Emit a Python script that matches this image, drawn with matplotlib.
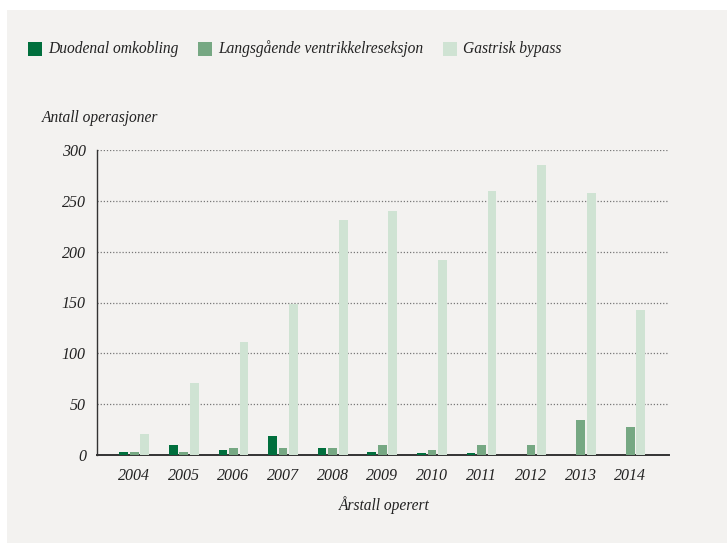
import numpy as np
import matplotlib
matplotlib.use("Agg")
import matplotlib.pyplot as plt
from matplotlib.patches import Rectangle

years = ["2004", "2005", "2006", "2007", "2008", "2009", "2010", "2011", "2012", "2013", "2014"]
duodenal = [3, 10, 5, 19, 7, 3, 2, 2, 0, 0, 0]
langsgaende = [3, 3, 7, 7, 7, 10, 5, 10, 10, 34, 28]
gastrisk = [21, 71, 111, 149, 231, 240, 192, 260, 285, 258, 143]

series_names = ["Duodenal omkobling", "Langsgående ventrikkelreseksjon", "Gastrisk bypass"]
colors = ["#006f3d", "#76a883", "#cfe3d3"]
bg = "#f3f2f0"

plt.rcParams['font.family'] = ['Liberation Serif', 'DejaVu Serif']

fig = plt.figure(figsize=(7.27, 5.43), dpi=100)
fig.patch.set_facecolor("white")
# grey panel behind everything
fig.patches.append(Rectangle((7 / 727, 0), 1, 1 - 10 / 543, transform=fig.transFigure,
                             facecolor=bg, edgecolor="none", zorder=-10))

ax = fig.add_axes([97 / 727, 88 / 543, (669 - 97) / 727, (455 - 150) / 543])
ax.set_facecolor(bg)

x = np.arange(len(years))
w = 0.175
step = 0.212
for i, (vals, c) in enumerate(zip([duodenal, langsgaende, gastrisk], colors)):
    ax.bar(x + (i - 1) * step, vals, width=w, color=c, zorder=3, label=series_names[i])

ax.set_xlim(-0.75, len(years) - 1 + 0.78)
ax.set_ylim(0, 300)
ax.set_yticks(range(0, 301, 50))
ax.set_xticks(x)
ax.set_xticklabels(years)
ax.yaxis.grid(True, linestyle=(0, (1, 1.5)), color="#777777", linewidth=0.9, zorder=1)
ax.set_axisbelow(True)

for s in ["top", "right"]:
    ax.spines[s].set_visible(False)
ax.spines["left"].set_color("#333333")
ax.spines["bottom"].set_color("#333333")
ax.spines["left"].set_linewidth(1.0)
ax.spines["bottom"].set_linewidth(1.4)
ax.tick_params(length=0, labelsize=11.5, colors="#222222")
ax.tick_params(axis="y", pad=8)
ax.tick_params(axis="x", pad=9)
for lab in ax.get_xticklabels() + ax.get_yticklabels():
    lab.set_fontstyle("italic")

fig.text(42 / 727, 1 - 118 / 543, "Antall operasjoner", fontsize=11.2, fontstyle="italic",
         color="#222222", ha="left", va="center")
fig.text(384 / 727, 1 - 505 / 543, "Årstall operert", fontsize=11.2, fontstyle="italic",
         color="#222222", ha="center", va="center")

# legend drawn by hand
leg_x = [28, 198, 443]
ly = 1 - 49 / 543
for lx, name, c in zip(leg_x, series_names, colors):
    fig.patches.append(Rectangle((lx / 727, ly - 7 / 543), 14 / 727, 14 / 543,
                                 transform=fig.transFigure, facecolor=c, edgecolor="none"))
    fig.text((lx + 20) / 727, ly, name, fontsize=11.2, fontstyle="italic", color="#222222",
             ha="left", va="center")

fig.savefig("out.png", dpi=100, facecolor=fig.get_facecolor())
